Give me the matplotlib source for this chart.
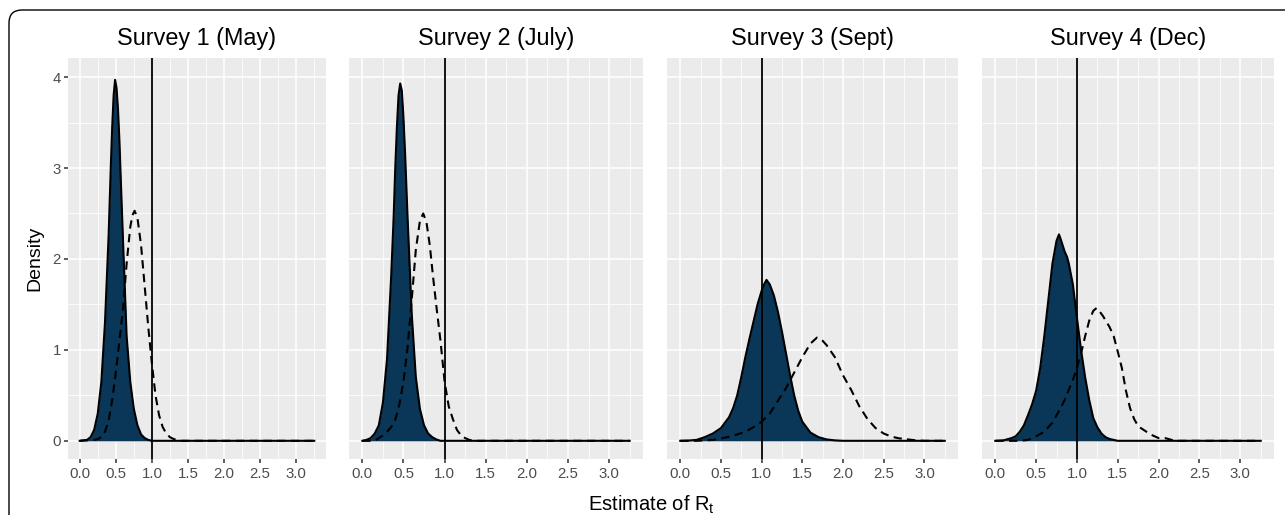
import matplotlib
matplotlib.use("Agg")
import matplotlib.pyplot as plt
from matplotlib.patches import FancyBboxPatch
from matplotlib.ticker import MultipleLocator

plt.rcParams["font.family"] = ["Liberation Sans", "DejaVu Sans"]
plt.rcParams["mathtext.fontset"] = "custom"
plt.rcParams["mathtext.rm"] = "Liberation Sans"
plt.rcParams["mathtext.it"] = "Liberation Sans"

# ---- data (x = estimate of Rt, y = density) ----
titles = ["Survey 1 (May)", "Survey 2 (July)", "Survey 3 (Sept)", "Survey 4 (Dec)"]

s1_fill_x = [0.0, 0.1, 0.15, 0.2, 0.25, 0.3, 0.35, 0.4, 0.43, 0.45, 0.47, 0.49, 0.51, 0.53, 0.55,
             0.57, 0.6, 0.65, 0.7, 0.75, 0.8, 0.85, 0.9, 0.95, 1.0, 3.25]
s1_fill_y = [0.0, 0.01, 0.04, 0.12, 0.3, 0.65, 1.3, 2.25, 3.0, 3.45, 3.8, 3.97, 3.88, 3.65, 3.3,
             2.85, 2.2, 1.15, 0.65, 0.35, 0.17, 0.07, 0.03, 0.01, 0.0, 0.0]
s1_dash_x = [0.0, 0.2, 0.25, 0.3, 0.35, 0.4, 0.45, 0.5, 0.55, 0.6, 0.65, 0.7, 0.73, 0.76, 0.8, 0.85,
             0.9, 0.95, 1.0, 1.05, 1.1, 1.15, 1.2, 1.25, 1.3, 1.35, 1.4, 3.25]
s1_dash_y = [0.0, 0.01, 0.02, 0.04, 0.1, 0.22, 0.45, 0.75, 1.1, 1.45, 1.95, 2.35, 2.48, 2.53, 2.45, 2.15,
             1.7, 1.25, 0.85, 0.5, 0.28, 0.15, 0.08, 0.04, 0.02, 0.01, 0.0, 0.0]

s2_fill_x = [0.0, 0.05, 0.1, 0.15, 0.2, 0.25, 0.3, 0.35, 0.38, 0.4, 0.42, 0.44, 0.46, 0.48, 0.5, 0.52,
             0.55, 0.6, 0.65, 0.7, 0.75, 0.8, 0.85, 0.9, 0.95, 3.25]
s2_fill_y = [0.0, 0.01, 0.03, 0.08, 0.17, 0.42, 0.9, 1.8, 2.45, 3.0, 3.45, 3.8, 3.93, 3.85, 3.55, 3.15,
             2.45, 1.4, 0.7, 0.35, 0.17, 0.08, 0.04, 0.015, 0.0, 0.0]
s2_dash_x = [0.0, 0.15, 0.2, 0.25, 0.3, 0.35, 0.4, 0.45, 0.5, 0.55, 0.6, 0.65, 0.7, 0.74, 0.78, 0.82,
             0.86, 0.9, 0.95, 1.0, 1.05, 1.1, 1.15, 1.2, 1.25, 1.3, 1.35, 3.25]
s2_dash_y = [0.0, 0.0, 0.03, 0.06, 0.1, 0.15, 0.23, 0.4, 0.65, 1.03, 1.55, 2.1, 2.42, 2.5, 2.4, 2.15,
             1.8, 1.48, 1.1, 0.65, 0.38, 0.24, 0.12, 0.06, 0.03, 0.01, 0.0, 0.0]

s3_fill_x = [0.0, 0.1, 0.2, 0.3, 0.4, 0.5, 0.6, 0.65, 0.7, 0.75, 0.8, 0.85, 0.9, 0.95, 1.0, 1.03, 1.06,
             1.1, 1.15, 1.2, 1.25, 1.3, 1.35, 1.4, 1.45, 1.5, 1.6, 1.7, 1.8, 1.9, 2.0, 3.25]
s3_fill_y = [0.0, 0.003, 0.01, 0.04, 0.08, 0.14, 0.26, 0.36, 0.5, 0.7, 0.92, 1.12, 1.31, 1.5, 1.65, 1.72,
             1.77, 1.72, 1.6, 1.42, 1.2, 0.96, 0.72, 0.5, 0.33, 0.21, 0.09, 0.04, 0.015, 0.005, 0.0, 0.0]
s3_dash_x = [0.0, 0.2, 0.3, 0.4, 0.5, 0.6, 0.7, 0.8, 0.9, 1.0, 1.1, 1.2, 1.3, 1.4, 1.5, 1.6, 1.68, 1.75,
             1.8, 1.9, 2.0, 2.1, 2.2, 2.3, 2.4, 2.5, 2.6, 2.7, 2.75, 2.8, 2.9, 3.0, 3.25]
s3_dash_y = [0.0, 0.0, 0.005, 0.01, 0.025, 0.045, 0.07, 0.1, 0.15, 0.21, 0.3, 0.44, 0.58, 0.75, 0.92, 1.07,
             1.135, 1.1, 1.05, 0.92, 0.72, 0.56, 0.38, 0.24, 0.14, 0.08, 0.045, 0.025, 0.03, 0.015, 0.005,
             0.0, 0.0]

s4_fill_x = [0.0, 0.1, 0.2, 0.25, 0.3, 0.35, 0.4, 0.45, 0.5, 0.55, 0.6, 0.65, 0.7, 0.75, 0.78, 0.8, 0.85,
             0.88, 0.9, 0.95, 1.0, 1.05, 1.1, 1.15, 1.2, 1.25, 1.3, 1.35, 1.4, 1.5, 3.25]
s4_fill_y = [0.0, 0.005, 0.03, 0.05, 0.1, 0.17, 0.28, 0.4, 0.55, 0.8, 1.15, 1.55, 1.95, 2.2, 2.27, 2.22, 2.08,
             2.02, 1.95, 1.72, 1.35, 1.0, 0.7, 0.45, 0.25, 0.15, 0.08, 0.04, 0.02, 0.0, 0.0]
s4_dash_x = [0.0, 0.3, 0.4, 0.5, 0.6, 0.7, 0.8, 0.85, 0.9, 0.95, 1.0, 1.05, 1.1, 1.15, 1.2, 1.24, 1.28,
             1.32, 1.36, 1.4, 1.45, 1.5, 1.55, 1.6, 1.65, 1.7, 1.75, 1.8, 1.85, 1.9, 2.0, 2.08, 2.2, 3.25]
s4_dash_y = [0.0, 0.0, 0.01, 0.05, 0.1, 0.2, 0.36, 0.45, 0.56, 0.67, 0.8, 0.96, 1.15, 1.32, 1.43, 1.46, 1.42,
             1.37, 1.31, 1.25, 1.15, 0.98, 0.8, 0.55, 0.36, 0.24, 0.16, 0.13, 0.1, 0.07, 0.03, 0.03, 0.0, 0.0]

fills = [(s1_fill_x, s1_fill_y), (s2_fill_x, s2_fill_y), (s3_fill_x, s3_fill_y), (s4_fill_x, s4_fill_y)]
dashes = [(s1_dash_x, s1_dash_y), (s2_dash_x, s2_dash_y), (s3_dash_x, s3_dash_y), (s4_dash_x, s4_dash_y)]
ref_line = 1.0

# ---- layout (pixels of the 1285x515 canvas) ----
W, H = 1285, 515
panels_px = [(68, 326), (349, 643), (667, 958), (982, 1274)]
top_px, bot_px = 58, 459
FILL = "#0a3757"
TXT = "#4d4d4d"

fig = plt.figure(figsize=(W / 100, H / 100), dpi=100)

border = FancyBboxPatch((0.09, -0.4), 13.5, 5.45, boxstyle="round,pad=0,rounding_size=0.13",
                        transform=fig.dpi_scale_trans, fill=False, ec="black", lw=1.0)
fig.patches.append(border)

for i, ((x0, x1), title) in enumerate(zip(panels_px, titles)):
    ax = fig.add_axes([x0 / W, (H - bot_px) / H, (x1 - x0) / W, (bot_px - top_px) / H])
    ax.set_facecolor("#EBEBEB")
    for s in ax.spines.values():
        s.set_visible(False)
    ax.set_xlim(-0.1625, 3.4125)
    ax.set_ylim(-0.2, 4.21)
    ax.xaxis.set_major_locator(MultipleLocator(0.5))
    ax.xaxis.set_minor_locator(MultipleLocator(0.25))
    ax.yaxis.set_major_locator(MultipleLocator(1))
    ax.yaxis.set_minor_locator(MultipleLocator(0.5))
    ax.grid(which="major", color="white", lw=1.1)
    ax.grid(which="minor", color="white", lw=0.55)
    ax.set_axisbelow(True)
    ax.set_xticks([0, 0.5, 1, 1.5, 2, 2.5, 3])
    ax.set_xticklabels(["0.0", "0.5", "1.0", "1.5", "2.0", "2.5", "3.0"])
    ax.tick_params(which="major", length=3, width=1.1, color="#333333", labelcolor=TXT,
                   labelsize=10.8, pad=3)
    ax.tick_params(which="minor", length=0)
    if i == 0:
        ax.set_yticks([0, 1, 2, 3, 4])
        ax.tick_params(axis="y", pad=2)
    else:
        ax.tick_params(axis="y", length=0, labelleft=False)

    fx, fy = fills[i]
    dx, dy = dashes[i]
    ax.fill_between(fx, fy, 0, color=FILL, lw=0, zorder=2)
    ax.plot(fx, fy, color="black", lw=1.5, zorder=3, solid_joinstyle="round")
    ax.plot(dx, dy, color="black", lw=1.5, ls=(0, (4.0, 2.6)), zorder=4)
    ax.axvline(ref_line, color="black", lw=1.3, zorder=5)

    fig.text((x0 + x1) / 2 / W, (H - 45) / H, title, ha="center", va="baseline", fontsize=16.8)

fig.text(35 / W, (H - (top_px + bot_px) / 2) / H, "Density", rotation=90, ha="center",
         va="center", fontsize=14)
fig.text(651 / W, (H - 511) / H, r"Estimate of $\mathregular{R_t}$", ha="center",
         va="baseline", fontsize=14.5)

fig.savefig("out.png", dpi=100)
